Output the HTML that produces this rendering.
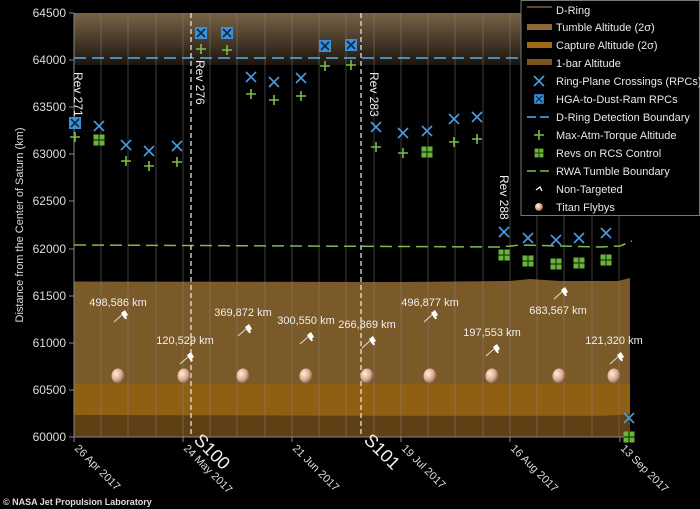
<!DOCTYPE html>
<html><head><meta charset="utf-8"><style>
html,body{margin:0;padding:0;background:#000;width:700px;height:509px;overflow:hidden}
svg{display:block;font-family:"Liberation Sans",sans-serif}
</style></head><body>
<svg width="700" height="509" viewBox="0 0 700 509" xmlns="http://www.w3.org/2000/svg">
<defs>
<linearGradient id="dr" x1="0" y1="0" x2="0" y2="1">
<stop offset="0" stop-color="#7a6446"/><stop offset="1" stop-color="#1a150e"/>
</linearGradient>
<radialGradient id="ti" cx="0.35" cy="0.35" r="0.7">
<stop offset="0" stop-color="#fff0e0"/><stop offset="0.6" stop-color="#d9a98a"/><stop offset="1" stop-color="#7a5040"/>
</radialGradient>
<g id="bx"><rect x="-6" y="-6" width="12" height="12" fill="#3b8fd6"/><path d="M-4,-4L4,4M4,-4L-4,4" stroke="#0d2a45" stroke-width="1.6"/></g>
<g id="xm"><path d="M-5,-5L5,5M5,-5L-5,5" stroke="#4a9be0" stroke-width="1.6"/></g>
<g id="pl"><path d="M-5,0H5M0,-5V5" stroke="#7dbb4a" stroke-width="1.6"/></g>
<g id="rc"><rect x="-5.5" y="-5.5" width="11" height="11" fill="#6ab43c"/><path d="M-5.5,0H5.5M0,-5.5V5.5" stroke="#1b3a10" stroke-width="1.2"/></g>
<g id="sat"><path d="M-7,6L2,-2" stroke="#ddd" stroke-width="1"/><path d="M0,-3L4,-6L7,-1L3,2Z" fill="#fff"/><path d="M3,-2L5,3" stroke="#fff" stroke-width="2"/></g>
<g id="tt"><ellipse cx="0" cy="0" rx="6.5" ry="7.5" fill="url(#ti)"/></g>
</defs>
<rect x="74" y="13" width="556" height="52" fill="url(#dr)"/>
<path d="M74,281.5 L400,282 L510,281 L530,279 L560,281 L618,281 L630,278 L630,437 L74,437Z" fill="#7a5a28"/>
<rect x="74" y="384" width="556" height="31" fill="#8f5f14"/>
<path d="M74,415 L400,416 L600,416 L618,415 L630,414 L630,437 L74,437Z" fill="#5e4014"/>
<g stroke="#8a8a8a" stroke-width="0.8" opacity="0.55">
<path d="M101,13V437M128,13V437M156,13V437M183,13V437M210,13V437M237,13V437M265,13V437M292,13V437M319,13V437M346,13V437M374,13V437M401,13V437M428,13V437M455,13V437M483,13V437M510,13V437M537,13V437M564,13V437M592,13V437M619,13V437"/>
</g>
<path d="M74,13V437H630" stroke="#888" stroke-width="1" fill="none"/>
<g stroke="#888"><path d="M69,13H74M69,60H74M69,107H74M69,154H74M69,201H74M69,249H74M69,296H74M69,343H74M69,390H74M69,437H74"/>
<path d="M74,437V442M183,437V442M292,437V442M401,437V442M510,437V442M620,437V442"/></g>
<g fill="#ddd" font-size="12" text-anchor="end">
<text x="66" y="17">64500</text><text x="66" y="64">64000</text><text x="66" y="111">63500</text><text x="66" y="158">63000</text><text x="66" y="205">62500</text><text x="66" y="253">62000</text><text x="66" y="300">61500</text><text x="66" y="347">61000</text><text x="66" y="394">60500</text><text x="66" y="441">60000</text>
</g>
<text transform="translate(23,225) rotate(-90)" fill="#ddd" font-size="11" text-anchor="middle">Distance from the Center of Saturn (km)</text>
<path d="M74,58H630" stroke="#5aaee8" stroke-width="1.5" stroke-dasharray="12,6"/>
<path d="M74,245 L300,246 L500,247 L520,245 L600,247 L620,246 L632,241" stroke="#7dbb4a" stroke-width="1.5" stroke-dasharray="12,6" fill="none"/>
<path d="M191,13V437M361,13V437" stroke="#eee" stroke-width="1.2" stroke-dasharray="5,3"/>
<use href="#bx" x="75" y="123"/><use href="#pl" x="75" y="137"/>
<use href="#xm" x="99" y="126"/><use href="#rc" x="99" y="140"/>
<use href="#xm" x="126" y="145"/><use href="#pl" x="126" y="161"/>
<use href="#xm" x="149" y="151"/><use href="#pl" x="149" y="166"/>
<use href="#xm" x="177" y="146"/><use href="#pl" x="177" y="162"/>
<use href="#bx" x="201" y="33"/><use href="#pl" x="201" y="49"/>
<use href="#bx" x="227" y="33"/><use href="#pl" x="227" y="50"/>
<use href="#xm" x="251" y="77"/><use href="#pl" x="251" y="94"/>
<use href="#xm" x="274" y="82"/><use href="#pl" x="274" y="100"/>
<use href="#xm" x="301" y="78"/><use href="#pl" x="301" y="96"/>
<use href="#bx" x="325" y="46"/><use href="#pl" x="325" y="66"/>
<use href="#bx" x="351" y="45"/><use href="#pl" x="351" y="65"/>
<use href="#xm" x="376" y="127"/><use href="#pl" x="376" y="147"/>
<use href="#xm" x="403" y="133"/><use href="#pl" x="403" y="153"/>
<use href="#xm" x="427" y="131"/><use href="#rc" x="427" y="152"/>
<use href="#xm" x="454" y="119"/><use href="#pl" x="454" y="142"/>
<use href="#xm" x="477" y="117"/><use href="#pl" x="477" y="139"/>
<use href="#xm" x="504" y="232"/><use href="#rc" x="504" y="255"/>
<use href="#xm" x="528" y="238"/><use href="#rc" x="528" y="261"/>
<use href="#xm" x="556" y="240"/><use href="#rc" x="556" y="264"/>
<use href="#xm" x="579" y="238"/><use href="#rc" x="579" y="263"/>
<use href="#xm" x="606" y="233"/><use href="#rc" x="606" y="260"/>
<use href="#xm" x="629" y="418"/><use href="#rc" x="629" y="437"/>
<g fill="#eee" font-size="12">
<text transform="translate(74,72) rotate(90)">Rev 271</text>
<text transform="translate(196,60) rotate(90)">Rev 276</text>
<text transform="translate(370,72) rotate(90)">Rev 283</text>
<text transform="translate(500,175) rotate(90)">Rev 288</text>
</g>
<use href="#tt" x="118" y="376"/><use href="#tt" x="184" y="376"/><use href="#tt" x="243" y="376"/><use href="#tt" x="306" y="376"/><use href="#tt" x="367" y="376"/><use href="#tt" x="430" y="376"/><use href="#tt" x="492" y="376"/><use href="#tt" x="559" y="376"/><use href="#tt" x="614" y="376"/>
<use href="#sat" x="121" y="316"/><use href="#sat" x="187" y="358"/><use href="#sat" x="245" y="330"/><use href="#sat" x="307" y="338"/><use href="#sat" x="369" y="342"/><use href="#sat" x="431" y="316"/><use href="#sat" x="493" y="350"/><use href="#sat" x="561" y="293"/><use href="#sat" x="617" y="358"/>
<g fill="#f0f0f0" font-size="11" text-anchor="middle">
<text x="118" y="306">498,586 km</text>
<text x="185" y="344">120,529 km</text>
<text x="243" y="316">369,872 km</text>
<text x="306" y="324">300,550 km</text>
<text x="367" y="328">266,869 km</text>
<text x="430" y="306">496,877 km</text>
<text x="492" y="336">197,553 km</text>
<text x="558" y="314">683,567 km</text>
<text x="614" y="344">121,320 km</text>
</g>
<g fill="#ddd" font-size="11">
<text transform="translate(74,449) rotate(45)">26 Apr 2017</text>
<text transform="translate(183,449) rotate(45)">24 May 2017</text>
<text transform="translate(292,449) rotate(45)">21 Jun 2017</text>
<text transform="translate(401,449) rotate(45)">19 Jul 2017</text>
<text transform="translate(510,449) rotate(45)">16 Aug 2017</text>
<text transform="translate(620,449) rotate(45)">13 Sep 2017</text>
</g>
<g fill="#eee" font-size="18">
<text transform="translate(193,441) rotate(45)">S100</text>
<text transform="translate(363,441) rotate(45)">S101</text>
</g>
<text x="3" y="505" fill="#ddd" font-size="9" font-weight="bold">© NASA Jet Propulsion Laboratory</text>
<rect x="521" y="0.5" width="178.5" height="215" fill="#000" stroke="#777" stroke-width="1"/>
<g font-size="11" fill="#e8e8e8">
<path d="M527,7H552" stroke="#8a7350" stroke-width="1.2"/><text x="556" y="14">D-Ring</text>
<rect x="527" y="24" width="25" height="6" fill="#8a6a38"/><text x="556" y="31">Tumble Altitude (2σ)</text>
<rect x="527" y="42" width="25" height="6" fill="#a06a18"/><text x="556" y="49">Capture Altitude (2σ)</text>
<rect x="527" y="59" width="25" height="6" fill="#7a5520"/><text x="556" y="67">1-bar Altitude</text>
<use href="#xm" x="539" y="81"/><text x="556" y="85">Ring-Plane Crossings (RPCs)</text>
<use href="#bx" x="539" y="99" transform="translate(539,99) scale(0.8) translate(-539,-99)"/><text x="556" y="103">HGA-to-Dust-Ram RPCs</text>
<path d="M527,117H552" stroke="#5aaee8" stroke-width="1.5" stroke-dasharray="9,4"/><text x="556" y="121">D-Ring Detection Boundary</text>
<use href="#pl" x="539" y="135"/><text x="556" y="139">Max-Atm-Torque Altitude</text>
<use href="#rc" x="539" y="153" transform="translate(539,153) scale(0.8) translate(-539,-153)"/><text x="556" y="157">Revs on RCS Control</text>
<path d="M527,171H552" stroke="#7dbb4a" stroke-width="1.5" stroke-dasharray="9,4"/><text x="556" y="175">RWA Tumble Boundary</text>
<path d="M536,190L540,187L542,191" stroke="#fff" stroke-width="1.3" fill="none"/><text x="556" y="193">Non-Targeted</text>
<circle cx="539" cy="207" r="4" fill="url(#ti)"/><text x="556" y="211">Titan Flybys</text>
</g>
</svg>
</body></html>
